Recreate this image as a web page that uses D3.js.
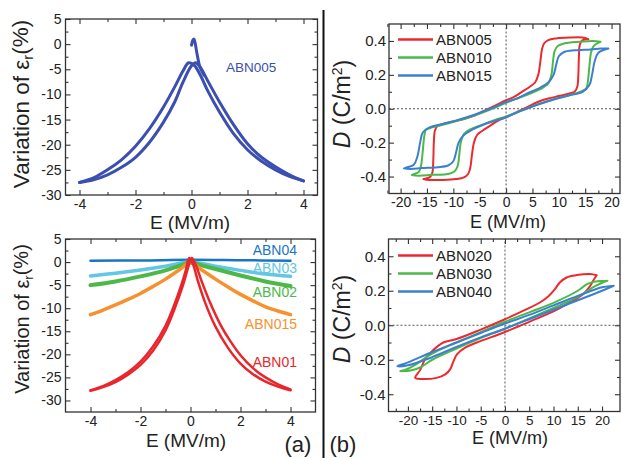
<!DOCTYPE html>
<html><head><meta charset="utf-8">
<script src="https://cdn.jsdelivr.net/npm/d3@7"></script>
<style>body{margin:0;background:#fff}svg{display:block}text{font-family:"Liberation Sans",Arial,sans-serif;fill:#222}</style>
</head><body><svg id="c" width="622" height="458"></svg>
<script>
// ---------- Panel (a) top: ABN005 permittivity variation ----------
const abn005Left = [[-4,-27.5],[-3.5,-26.6],[-3,-25.0],[-2.5,-23.0],[-2,-20.3],[-1.5,-16.8],[-1,-12.5],[-0.6,-8.5],[-0.3,-5.3],[-0.1,-3.7],[0.1,-4.2],[0.3,-6.0],[0.6,-9.5],[1,-13.5],[1.5,-17.8],[2,-21.0],[2.5,-23.3],[3,-25.0],[3.5,-26.3],[4,-27.2]];
const abn005Right = [[-4,-27.5],[-3.5,-27.0],[-3,-26.0],[-2.5,-24.5],[-2,-22.5],[-1.5,-19.5],[-1,-15.5],[-0.6,-11.5],[-0.3,-7.5],[0,-4.3],[0.15,-3.7],[0.3,-4.5],[0.6,-7.5],[1,-11.5],[1.5,-16.0],[2,-19.8],[2.5,-22.5],[3,-24.4],[3.5,-26.0],[4,-27.2]];
const abn005Spike = [[0,-0.2],[0.05,0.8],[0.09,1.0],[0.13,0.2],[0.2,-2],[0.3,-4.5],[0.45,-6.2]];

// ---------- Panel (a) bottom ----------
const abn04 = [[-4,0.3],[-2,0.35],[0,0.5],[2,0.4],[4,0.3]];
const abn03 = [[-4,-3.0],[-3,-2.4],[-2,-1.7],[-1,-0.9],[0,0],[1,-0.9],[2,-1.8],[3,-2.6],[4,-3.1]];
const abn02 = [[-4,-5.0],[-3,-4.2],[-2,-3.1],[-1,-1.8],[-0.5,-0.9],[0,-0.1],[0.5,-0.8],[1,-1.5],[2,-2.9],[3,-4.2],[4,-5.2]];
const abn015 = [[-4,-11.4],[-3.5,-10.4],[-3,-9.3],[-2.5,-8.1],[-2,-6.8],[-1.5,-5.3],[-1,-3.7],[-0.5,-1.9],[0,-0.2],[0.5,-1.9],[1,-3.7],[1.5,-5.4],[2,-7.0],[2.5,-8.4],[3,-9.7],[3.5,-10.6],[4,-11.4]];
const abn01Left = [[-4,-27.8],[-3.5,-26.9],[-3,-25.6],[-2.5,-23.9],[-2,-21.6],[-1.5,-18.3],[-1,-13.8],[-0.7,-10.0],[-0.4,-5.5],[-0.2,-2.0],[-0.05,0.9],[0.1,-0.5],[0.3,-4.2],[0.6,-9.0],[1,-14.0],[1.5,-18.6],[2,-22.0],[2.5,-24.3],[3,-25.9],[3.5,-27.0],[4,-27.8]];
const abn01Right = [[-4,-27.9],[-3.5,-27.1],[-3,-26.0],[-2.5,-24.4],[-2,-22.3],[-1.5,-19.2],[-1,-14.8],[-0.6,-9.6],[-0.3,-5.0],[-0.1,-1.3],[0.05,0.9],[0.2,-0.5],[0.45,-4.2],[0.8,-9.0],[1.2,-13.6],[1.6,-17.2],[2,-20.2],[2.5,-23.0],[3,-25.0],[3.5,-26.5],[4,-27.6]];

// ---------- Panel (b) top: D-E loops ----------
const loopABN005 = [[15.6,0.41],[14.5,0.42],[12,0.42],[9.5,0.415],[8,0.405],[7.2,0.385],[6.8,0.35],[6.5,0.28],[6.1,0.2],[5.5,0.155],[4.5,0.13],[3,0.1],[1.5,0.07],[0,0.05],[-2,0.02],[-4,-0.01],[-6,-0.04],[-8,-0.06],[-10,-0.075],[-12,-0.09],[-13,-0.1],[-13.5,-0.13],[-13.7,-0.2],[-13.8,-0.3],[-14,-0.38],[-14.5,-0.405],[-15.7,-0.415],
  [-14.5,-0.42],[-12,-0.42],[-9.5,-0.415],[-8,-0.405],[-7.2,-0.385],[-6.8,-0.35],[-6.5,-0.28],[-6.1,-0.2],[-5.5,-0.155],[-4.5,-0.13],[-3,-0.1],[-1.5,-0.07],[0,-0.05],[2,-0.02],[4,0.01],[6,0.04],[8,0.06],[10,0.075],[12,0.09],[13,0.1],[13.5,0.13],[13.7,0.2],[13.8,0.3],[14,0.38],[14.5,0.405],[15.6,0.41]];
const loopABN010 = [[17.9,0.395],[16.5,0.4],[14,0.395],[11,0.385],[9.8,0.37],[9.2,0.34],[8.9,0.28],[8.6,0.2],[8,0.15],[7,0.125],[5,0.095],[2.5,0.065],[0,0.035],[-3,-0.005],[-6,-0.04],[-9,-0.07],[-12,-0.095],[-14,-0.11],[-15.2,-0.125],[-15.5,-0.16],[-15.8,-0.25],[-16.1,-0.33],[-16.6,-0.375],[-17.9,-0.39],
  [-16.5,-0.395],[-14,-0.39],[-11,-0.385],[-9.8,-0.37],[-9.2,-0.34],[-8.9,-0.28],[-8.6,-0.2],[-8,-0.15],[-7,-0.125],[-5,-0.1],[-2.5,-0.07],[0,-0.045],[3,-0.01],[6,0.025],[9,0.055],[12,0.08],[14,0.1],[15.2,0.12],[15.5,0.16],[15.8,0.25],[16.1,0.33],[16.6,0.37],[17.9,0.395]];
const loopABN015 = [[19.4,0.355],[18,0.355],[16,0.35],[13,0.345],[11,0.335],[10,0.31],[9.5,0.26],[9,0.2],[8,0.155],[6.5,0.125],[4,0.09],[2,0.06],[0,0.04],[-3,0],[-6,-0.035],[-9,-0.065],[-12,-0.09],[-14.5,-0.11],[-15.8,-0.14],[-16.3,-0.2],[-16.8,-0.28],[-17.5,-0.33],[-19.4,-0.352],
  [-18,-0.355],[-16,-0.35],[-13,-0.345],[-11,-0.335],[-10,-0.31],[-9.5,-0.26],[-9,-0.2],[-8,-0.155],[-6.5,-0.125],[-4,-0.09],[-2,-0.07],[0,-0.05],[3,-0.01],[6,0.025],[9,0.055],[12,0.08],[14.5,0.1],[15.8,0.14],[16.3,0.2],[16.8,0.28],[17.5,0.33],[19.4,0.355]];

// ---------- Panel (b) bottom ----------
const loopABN020 = [[18.9,0.29],[17.5,0.297],[14.8,0.291],[12.7,0.277],[11.3,0.248],[10.3,0.21],[8.9,0.167],[7.2,0.132],[4.5,0.093],[0,0.035],[-5,-0.025],[-10,-0.08],[-12.7,-0.10],[-15.4,-0.16],[-16.5,-0.198],[-17.5,-0.26],[-18.5,-0.305],
  [-17.5,-0.311],[-14.1,-0.305],[-12.3,-0.285],[-11.3,-0.256],[-10.6,-0.208],[-9.9,-0.169],[-8.2,-0.13],[-5.8,-0.10],[0,-0.039],[5,0.02],[10,0.08],[13.4,0.132],[16.1,0.18],[17.5,0.225],[18.2,0.26],[18.9,0.29]];
const loopABN030 = [[21.1,0.258],[19,0.255],[17,0.24],[15,0.2],[10,0.13],[5,0.075],[0,0.02],[-5,-0.04],[-10,-0.1],[-14,-0.15],[-16.5,-0.19],[-18.5,-0.23],[-20.5,-0.258],[-21.6,-0.266],
  [-19.5,-0.262],[-17.5,-0.245],[-15,-0.2],[-10,-0.135],[-5,-0.075],[0,-0.02],[5,0.04],[10,0.1],[14,0.15],[16.5,0.19],[18.5,0.225],[20.5,0.252],[21.1,0.258]];
const loopABN040 = [[22.4,0.229],[20,0.22],[15,0.17],[10,0.115],[5,0.06],[0,0.01],[-5,-0.045],[-10,-0.1],[-15,-0.155],[-20,-0.215],[-22.2,-0.237],
  [-20,-0.232],[-15,-0.185],[-10,-0.125],[-5,-0.07],[0,-0.02],[5,0.035],[10,0.09],[15,0.145],[20,0.2],[22.4,0.229]];

// ---------- tick values / labels ----------
const epsXMajor = [-4,-2,0,2,4], epsXMinor = [-3,-1,1,3];
const epsYMajor = [5,0,-5,-10,-15,-20,-25,-30];
const epsYMinor = [2.5,-2.5,-7.5,-12.5,-17.5,-22.5,-27.5];
const deXMajor = [-20,-15,-10,-5,0,5,10,15,20];
const deXMinor = [-22.5,-17.5,-12.5,-7.5,-2.5,2.5,7.5,12.5,17.5];
const deYMajor = [-0.4,-0.2,0,0.2,0.4], deYMinor = [-0.3,-0.1,0.1,0.3];
const legendTop = ["ABN005","ABN010","ABN015"];
const legendBottom = ["ABN020","ABN030","ABN040"];
const seriesLabelsBottomLeft = ["ABN04","ABN03","ABN02","ABN015","ABN01"];

const svg = d3.select("#c");
const RED="#ec2a2e", GREEN="#4cb848", BLUE="#3c7fd1";

function panel(p){
  const x=d3.scaleLinear().domain(p.xd).range(p.xr);
  const y=d3.scaleLinear().domain(p.yd).range(p.yr);
  const g=svg.append("g");
  const cid="clip"+p.id;
  svg.append("clipPath").attr("id",cid).append("rect")
    .attr("x",p.xr[0]).attr("y",p.yr[1]).attr("width",p.xr[1]-p.xr[0]).attr("height",p.yr[0]-p.yr[1]);
  const style=(s,fs)=>{s.select(".domain").remove();s.selectAll("line").attr("stroke","#333").attr("stroke-width",1.1);
    s.selectAll("text").attr("font-size",fs).attr("fill","#222").attr("font-family","Liberation Sans, Arial, sans-serif");};
  const add=(axis,tr,fs)=>g.append("g").attr("transform",tr).call(axis).call(s=>style(s,fs));
  add(d3.axisBottom(x).tickValues(p.xMajor).tickSize(-5).tickPadding(p.xpad).tickFormat(p.xf),`translate(0,${p.yr[0]})`,p.xfs);
  add(d3.axisBottom(x).tickValues(p.xMinor).tickSize(-3).tickFormat(""),`translate(0,${p.yr[0]})`,p.fs);
  add(d3.axisTop(x).tickValues(p.xMajor).tickSize(-5).tickFormat(""),`translate(0,${p.yr[1]})`,p.fs);
  add(d3.axisTop(x).tickValues(p.xMinor).tickSize(-3).tickFormat(""),`translate(0,${p.yr[1]})`,p.fs);
  add(d3.axisLeft(y).tickValues(p.yMajor).tickSize(-5).tickPadding(p.ypad).tickFormat(p.yf),`translate(${p.xr[0]},0)`,p.fs);
  add(d3.axisLeft(y).tickValues(p.yMinor).tickSize(-3).tickFormat(""),`translate(${p.xr[0]},0)`,p.fs);
  add(d3.axisRight(y).tickValues(p.yMajor).tickSize(-5).tickFormat(""),`translate(${p.xr[1]},0)`,p.fs);
  add(d3.axisRight(y).tickValues(p.yMinor).tickSize(-3).tickFormat(""),`translate(${p.xr[1]},0)`,p.fs);
  const plot=svg.append("g").attr("clip-path",`url(#${cid})`);
  if(p.zero){
    plot.append("line").attr("x1",x(0)).attr("x2",x(0)).attr("y1",p.yr[0]).attr("y2",p.yr[1]).attr("stroke","#555").attr("stroke-dasharray","2,2").attr("stroke-width",1);
    plot.append("line").attr("x1",p.xr[0]).attr("x2",p.xr[1]).attr("y1",y(0)).attr("y2",y(0)).attr("stroke","#555").attr("stroke-dasharray","2,2").attr("stroke-width",1);
  }
  svg.append("rect").attr("x",p.xr[0]).attr("y",p.yr[1]).attr("width",p.xr[1]-p.xr[0]).attr("height",p.yr[0]-p.yr[1])
    .attr("fill","none").attr("stroke","#333").attr("stroke-width",1.3);
  return {x,y,plot};
}
const line=(P,curve)=>d3.line().x(d=>P.x(d[0])).y(d=>P.y(d[1])).curve(curve||d3.curveCatmullRom.alpha(0.5));
function draw(P,data,color,w){P.plot.append("path").attr("d",line(P)(data)).attr("fill","none").attr("stroke",color).attr("stroke-width",w).attr("stroke-linejoin","round").attr("stroke-linecap","round");}

const intF=d=>String(d), decF=d=>d.toFixed(1);

// Panel A
const A=panel({id:"A",xd:[-4.5,4.5],xr:[65.5,317.5],yd:[-30,5],yr:[195,19],xMajor:epsXMajor,xMinor:epsXMinor,yMajor:epsYMajor,yMinor:epsYMinor,xf:intF,yf:intF,xpad:4,ypad:4,fs:14,xfs:14});
const cA="#3b4fb0";
draw(A,abn005Left,cA,3);draw(A,abn005Right,cA,3);draw(A,abn005Spike,cA,3);
svg.append("text").attr("x",226).attr("y",67).attr("dy","0.35em").attr("font-size",13.5).style("fill",cA).text("ABN005");

// Panel C
const C=panel({id:"C",xd:[-5,5],xr:[65.5,315.5],yd:[-32.5,5],yr:[412,239],xMajor:epsXMajor,xMinor:epsXMinor,yMajor:epsYMajor,yMinor:epsYMinor,xf:intF,yf:intF,xpad:4,ypad:4,fs:14,xfs:14});
const colC=["#1a75c4","#62c6e6","#4cb848","#f7912d","#e8262b"];
draw(C,abn04,colC[0],2.5);draw(C,abn03,colC[1],3.5);draw(C,abn02,colC[2],4);draw(C,abn015,colC[3],3.5);
draw(C,abn01Left,colC[4],2.5);draw(C,abn01Right,colC[4],2.5);
const labY=[250,268,292,324,362];
seriesLabelsBottomLeft.forEach((t,i)=>svg.append("text").attr("x",297).attr("y",labY[i]).attr("dy","0.35em").attr("text-anchor","end").attr("font-size",14).style("fill",colC[i]).text(t));

// Panel B
const B=panel({id:"B",xd:[-22.2,21.6],xr:[389,620],yd:[-0.5,0.5],yr:[193.5,24],xMajor:deXMajor,xMinor:deXMinor,yMajor:deYMajor,yMinor:deYMinor,xf:intF,yf:decF,xpad:4,ypad:3,fs:15,xfs:14,zero:true});
draw(B,loopABN005,RED,2);draw(B,loopABN010,GREEN,2);draw(B,loopABN015,BLUE,2);
// Panel D
const D=panel({id:"D",xd:[-24,23.7],xr:[388.5,620],yd:[-0.5,0.5],yr:[411.5,239],xMajor:deXMajor,xMinor:deXMinor,yMajor:deYMajor,yMinor:deYMinor,xf:intF,yf:decF,xpad:4,ypad:3,fs:15,xfs:13.5,zero:true});
draw(D,loopABN020,RED,2);draw(D,loopABN030,GREEN,2);draw(D,loopABN040,BLUE,2);

function legend(names,y0){
  const cols=[RED,GREEN,BLUE];
  names.forEach((n,i)=>{const yy=y0+i*18;
    svg.append("line").attr("x1",398).attr("x2",433).attr("y1",yy).attr("y2",yy).attr("stroke",cols[i]).attr("stroke-width",2.5);
    svg.append("text").attr("x",436).attr("y",yy).attr("dy","0.35em").attr("font-size",15).text(n);});
}
legend(legendTop,39.5);legend(legendBottom,255.5);

// axis titles
const xt=(x,y,fs)=>svg.append("text").attr("x",x).attr("y",y).attr("text-anchor","middle").attr("font-size",fs).text("E (MV/m)");
xt(190,229,19);xt(186,447,19);xt(508,228,18);xt(510,444,18);
function ytEps(cx,cy,fs){const t=svg.append("text").attr("transform",`translate(${cx},${cy}) rotate(-90)`).attr("text-anchor","middle").attr("dy","0.35em").attr("font-size",fs);
  t.append("tspan").text("Variation of ε");t.append("tspan").attr("font-size",fs*0.65).attr("dy","0.3em").text("r");t.append("tspan").attr("dy","-0.25em").text("(%)");}
ytEps(21,104,22.5);ytEps(22,319,20);
function ytD(cx,cy){const t=svg.append("text").attr("transform",`translate(${cx},${cy}) rotate(-90)`).attr("text-anchor","middle").attr("dy","0.35em").attr("font-size",23);
  t.append("tspan").attr("font-style","italic").text("D");t.append("tspan").text(" (C/m");t.append("tspan").attr("font-size",14).attr("dy","-0.6em").text("2");t.append("tspan").attr("dy","0.4em").text(")");}
ytD(342,104);ytD(342,319);

svg.append("text").attr("x",298).attr("y",452).attr("text-anchor","middle").attr("font-size",22).text("(a)");
svg.append("text").attr("x",343).attr("y",452).attr("text-anchor","middle").attr("font-size",22).text("(b)");
svg.append("line").attr("x1",323.5).attr("x2",323.5).attr("y1",10).attr("y2",458).attr("stroke","#111").attr("stroke-width",2);
</script></body></html>
